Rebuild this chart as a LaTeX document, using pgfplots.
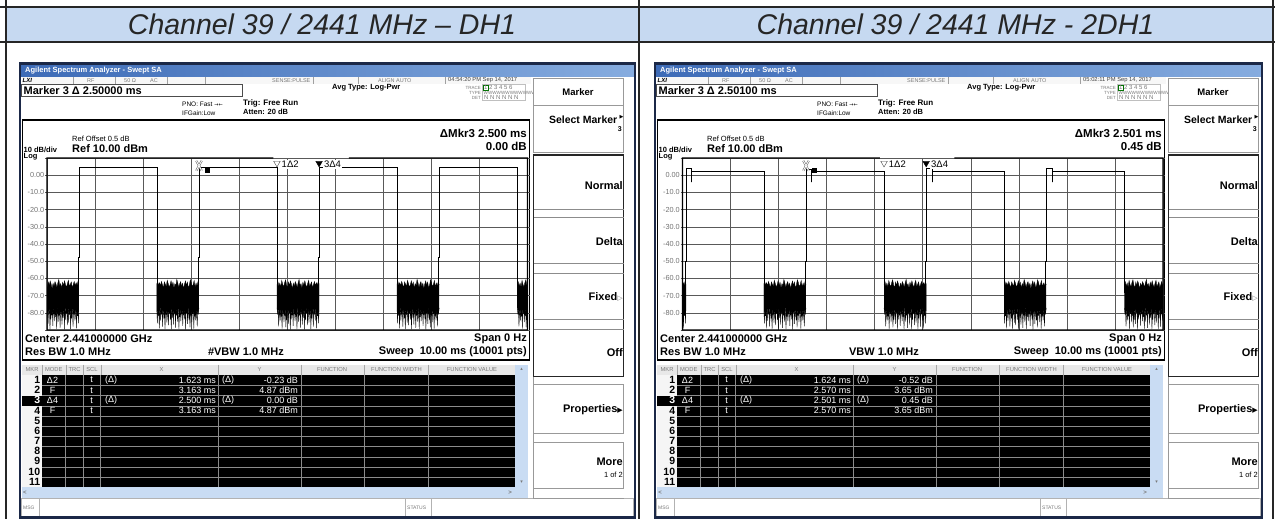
\documentclass[border=0pt]{standalone}
\usepackage{fontspec}
\setmainfont{Liberation Sans}
\newfontfamily\sym{DejaVu Sans}
\usepackage{pgfplots}
\pgfplotsset{compat=1.18}
\usepackage{pgfplotstable}
\usetikzlibrary{calc}

\definecolor{hdrblue}{HTML}{C6D9F1}
\definecolor{tline}{HTML}{262626}
\definecolor{navy}{HTML}{1B2847}
\definecolor{tbarL}{HTML}{3D6BB7}
\definecolor{tbarR}{HTML}{86ACDF}
\definecolor{scrollb}{HTML}{C9DCF3}
\definecolor{sepgray}{HTML}{A0A0A0}
\definecolor{stgray}{HTML}{7A7A7A}

\newcommand\fs[1]{\fontsize{#1}{#1}\selectfont}

% noise block: upper edge forward, lower edge backward (ms offset, dBm)
\pgfplotstableread{
t v
0.000 -63.8
0.020 -61.9
0.040 -64.6
0.060 -62.7
0.080 -65.1
0.100 -61.2
0.120 -63.5
0.140 -64.9
0.160 -62.4
0.180 -60.8
0.200 -63.9
0.220 -65.6
0.240 -62.1
0.260 -64.2
0.280 -61.5
0.300 -63.3
0.320 -66.0
0.340 -62.8
0.360 -64.7
0.380 -61.9
0.400 -63.1
0.420 -65.3
0.440 -62.6
0.460 -60.6
0.480 -64.4
0.500 -63.0
0.520 -65.8
0.540 -62.2
0.560 -64.1
0.580 -61.4
0.600 -63.7
0.620 -65.2
0.640 -62.9
0.660 -61.1
0.680 -64.8
0.700 -63.4
0.720 -62.0
0.740 -65.5
0.760 -63.6
0.780 -61.8
0.800 -64.3
0.820 -62.5
0.840 -64.0
0.860 -61.7
0.876 -63.2
0.876 -78.5
0.866 -86.2
0.856 -77.1
0.846 -81.8
0.836 -75.9
0.826 -89.0
0.816 -78.8
0.806 -76.2
0.796 -84.6
0.786 -77.5
0.776 -80.9
0.766 -75.6
0.756 -88.1
0.746 -79.2
0.736 -76.8
0.726 -83.3
0.716 -78.0
0.706 -89.5
0.696 -76.5
0.686 -81.1
0.676 -77.8
0.666 -85.7
0.656 -75.8
0.646 -79.9
0.636 -87.2
0.626 -77.3
0.616 -80.4
0.606 -76.1
0.596 -84.0
0.586 -78.6
0.576 -89.6
0.566 -76.7
0.556 -79.5
0.546 -82.9
0.536 -77.0
0.526 -86.8
0.516 -75.7
0.506 -80.2
0.496 -78.3
0.486 -88.7
0.476 -76.4
0.466 -81.5
0.456 -77.9
0.446 -85.1
0.436 -76.0
0.426 -79.0
0.416 -89.3
0.406 -77.6
0.396 -82.4
0.386 -76.6
0.376 -84.9
0.366 -78.2
0.356 -80.7
0.346 -75.5
0.336 -87.6
0.326 -77.2
0.316 -81.3
0.306 -76.9
0.296 -83.8
0.286 -78.9
0.276 -89.8
0.266 -76.3
0.256 -80.0
0.246 -77.7
0.236 -86.5
0.226 -75.8
0.216 -79.6
0.206 -84.2
0.196 -77.4
0.186 -88.4
0.176 -76.8
0.166 -81.7
0.156 -78.1
0.146 -85.4
0.136 -76.2
0.126 -80.6
0.116 -77.0
0.106 -89.2
0.096 -78.4
0.086 -82.1
0.076 -76.5
0.066 -84.4
0.056 -77.8
0.046 -80.3
0.036 -87.9
0.026 -76.1
0.016 -81.0
0.006 -78.7
0.000 -77.2
}\noise

% DH1 trace (ms, dBm)
\pgfplotstableread{
t v
0 -68
0.653 -68
0.653 -48
0.663 -48
0.663 4.87
2.286 4.87
2.286 -68
3.153 -68
3.153 -48
3.163 -48
3.163 4.87
4.786 4.87
4.786 -68
5.653 -68
5.653 -48
5.663 -48
5.663 4.87
7.286 4.87
7.286 -68
8.153 -68
8.153 -48
8.163 -48
8.163 4.87
9.786 4.87
9.786 -68
10 -68
}\pulseL

% 2DH1 trace (ms, dBm)
\pgfplotstableread{
t v
0 -68
0.06 -68
0.06 -50
0.07 -50
0.07 3.8
0.19 3.8
0.19 -4
0.19 2.4
1.694 2.4
1.694 -68
2.56 -68
2.56 -50
2.57 -50
2.57 3.65
2.69 3.65
2.69 -4
2.69 2.4
4.194 2.4
4.194 -68
5.061 -68
5.061 -50
5.071 -50
5.071 3.8
5.19 3.8
5.19 -4
5.19 2.4
6.694 2.4
6.694 -68
7.56 -68
7.56 -50
7.57 -50
7.57 3.8
7.69 3.8
7.69 -4
7.69 2.4
9.194 2.4
9.194 -68
10 -68
}\pulseR

\pgfplotsset{sa/.style={
  scale only axis, width=480.5pt, height=172pt, anchor=south west,
  xmin=0, xmax=10, ymin=-90, ymax=10,
  xtick={0,1,...,10}, xticklabels={},
  ytick={-90,-80,...,10},
  yticklabels={,-80.0,-70.0,-60.0,-50.0,-40.0,-30.0,-20.0,-10.0,0.00,},
  grid=major, grid style={black!65, line width=0.55pt},
  axis line style={draw=none},
  tick align=outside, major tick length=2pt,
  xtick style={draw=none},
  ytick style={black!65, line width=0.55pt},
  yticklabel style={font=\fs{7.3}, text=black!55, inner sep=0.5pt},
  clip mode=individual,
}}

\tikzset{
  rt/.style={text=white, font=\fs{9}, inner sep=0pt},
  st/.style={font=\fs{5.5}, text=stgray, inner sep=0pt, anchor=west},
  th/.style={font=\fs{5.8}, text=stgray, inner sep=0pt},
}

% #1 ox, #2 W, #3 timestamp, #4 marker value, #5 dmkr time, #6 dmkr dB, #7 vbw, #8 row contents
\newcommand{\screen}[8]{%
\begin{scope}[shift={(#1,0)}]
\fill[white] (0,63) rectangle (#2,518);
\shade[left color=tbarL, right color=tbarR] (0,64) rectangle (#2,77);
\node[anchor=west, text=white, font=\fs{7.5}\bfseries, inner sep=0pt] at (5,70.5) {Agilent Spectrum Analyzer - Swept SA};
% status row
\fill[black!3] (1.5,77) rectangle (511,84);
\foreach \s in {53,95,147,185,293,338,425}{\draw[sepgray, line width=0.4pt] (\s,77.5)--(\s,84);}
\node[anchor=west, font=\fs{6}\bfseries\itshape, inner sep=0pt] at (2.5,80.5) {LXI};
\node[st] at (67,80.5) {RF};
\node[st] at (104,80.5) {50 Ω};
\node[st] at (130,80.5) {AC};
\node[st] at (252,80.5) {SENSE:PULSE};
\node[st] at (358,80.5) {ALIGN AUTO};
\node[anchor=west, font=\fs{5.8}, text=black!75, inner sep=0pt] at (428,80.5) {#3};
% marker readout
\draw[black!70, line width=0.5pt, fill=white] (1.5,84.5) rectangle (222,96);
\node[anchor=west, font=\fs{11}\bfseries, inner sep=0pt] at (3.5,90.5) {Marker 3 Δ #4};
\node[anchor=west, font=\fs{7.5}\bfseries, inner sep=0pt] at (312,88) {Avg Type: Log-Pwr};
\node[anchor=east, font=\fs{4.5}, text=stgray, inner sep=0pt] at (461,87.5) {TRACE};
\node[anchor=east, font=\fs{4.5}, text=stgray, inner sep=0pt] at (461,92.5) {TYPE};
\node[anchor=east, font=\fs{4.5}, text=stgray, inner sep=0pt] at (461,97.5) {DET};
\draw[black!25, line width=0.4pt] (462.5,84.5) rectangle (505.5,100.5);
\draw[green!45!black, line width=0.4pt] (463,85) rectangle (468,90.5);
\node[anchor=west, font=\fs{6}, text=stgray, inner sep=0pt] at (464,87.7) {1 2 3 4 5 6};
\node[anchor=west, font=\fs{4.6}, text=stgray, inner sep=0pt] at (463.5,92.7) {WWWWWWWWWWWW};
\node[anchor=west, font=\fs{6}, text=stgray, inner sep=0pt] at (464,97.7) {N N N N N N};
\node[anchor=west, font=\fs{6.5}, inner sep=0pt] at (162,104) {PNO: Fast {\sym\fs{5}→←}};
\node[anchor=west, font=\fs{6.5}, inner sep=0pt] at (162,113) {IFGain:Low};
\node[anchor=west, font=\fs{8}\bfseries, inner sep=0pt] at (223,103) {Trig: Free Run};
\node[anchor=west, font=\fs{7.5}\bfseries, inner sep=0pt] at (223,112) {Atten: 20 dB};
% display frame
\draw[black, line width=1.2pt] (2.5,120) rectangle (509.5,360);
\node[anchor=east, font=\fs{11.5}\bfseries, inner sep=0pt] at (507,133) {ΔMkr3 #5};
\node[anchor=east, font=\fs{11.5}\bfseries, inner sep=0pt] at (507,146) {#6};
\node[anchor=west, font=\fs{7.5}, inner sep=0pt] at (52,139) {Ref Offset 0.5 dB};
\node[anchor=west, font=\fs{7.5}\bfseries, inner sep=0pt] at (3.5,150) {10 dB/div};
\node[anchor=west, font=\fs{11}\bfseries, inner sep=0pt] at (52,149) {Ref 10.00 dBm};
\node[anchor=west, font=\fs{7.5}\bfseries, inner sep=0pt] at (3.5,156.5) {Log};
\node[anchor=west, font=\fs{11}\bfseries, inner sep=0pt] at (5,338.5) {Center 2.441000000 GHz};
\node[anchor=east, font=\fs{11}\bfseries, inner sep=0pt] at (507,338.5) {Span 0 Hz};
\node[anchor=west, font=\fs{11}\bfseries, inner sep=0pt] at (5,351.5) {Res BW 1.0 MHz};
\node[anchor=east, font=\fs{11}\bfseries, inner sep=0pt] at (264,351.5) {#7};
\node[anchor=east, font=\fs{11}\bfseries, inner sep=0pt] at (507,351.5) {Sweep\hspace{6pt}10.00 ms (10001 pts)};
% marker table
\fill[black!9] (1.5,364.5) rectangle (508,374.5);
\foreach \s in {21.7,45.7,63.3,80.7,198.3,281,344.5,408.5,495}{\draw[black!35, line width=0.4pt] (\s,364.5)--(\s,374.5);}
\node[th] at (12,369.5) {MKR};
\node[th] at (33.7,369.5) {MODE};
\node[th] at (54.5,369.5) {TRC};
\node[th] at (72,369.5) {SCL};
\node[th] at (141.5,369.5) {X};
\node[th] at (239.5,369.5) {Y};
\node[th] at (312,369.5) {FUNCTION};
\node[th] at (376.5,369.5) {FUNCTION WIDTH};
\node[th] at (452,369.5) {FUNCTION VALUE};
\fill[black!4] (1.5,374.5) rectangle (21.7,487);
\fill[black] (21.7,374.5) rectangle (495,487);
\fill[black] (1.5,395.7) rectangle (21.7,405.9);
\foreach \s in {385.1,395.7,405.9,416.1,426.3,436.5,446.7,456.9,467.1,477.3}{\draw[black!45, line width=0.5pt] (21.7,\s)--(495,\s);}
\foreach \s in {45.7,63.3,80.7,198.3,281,344.5,408.5}{\draw[black!45, line width=0.5pt] (\s,374.5)--(\s,487);}
\foreach \i in {1,2,4,5,6,7,8,9,10,11}{\node[anchor=east, font=\fs{10.5}\bfseries, inner sep=0pt] at (20.3,{380+(\i-1)*10.17}) {\i};}
\node[anchor=east, font=\fs{10.5}\bfseries, text=white, inner sep=0pt] at (20.3,400.34) {3};
\fill[scrollb] (495,364.5) rectangle (508,487);
\node[font=\sym\fs{5}, text=stgray] at (501.5,369.5) {▴};
\node[font=\sym\fs{5}, text=stgray] at (501.5,482) {▾};
#8
% horizontal scroll bar and message line
\fill[scrollb] (1.5,487) rectangle (508,497.5);
\node[font=\fs{6}\bfseries, text=stgray] at (5,492.3) {<};
\node[font=\fs{6}\bfseries, text=stgray] at (490,492.3) {>};
\draw[black!30, line width=0.4pt] (1.5,498.5) rectangle (#2-2,516);
\draw[black!30, line width=0.4pt] (19,498.5)--(19,516) (385,498.5)--(385,516) (411,498.5)--(411,516);
\node[st, font=\fs{5}] at (3,507.5) {MSG};
\node[st, font=\fs{5}] at (387,507.5) {STATUS};
% softkeys
\draw[black!40, fill=white] (513,78) rectangle (603.5,105);
\node[font=\fs{9.5}\bfseries, inner sep=0pt] at (558,92) {Marker};
\draw[black!40] (513,105) rectangle (603.5,152);
\node[anchor=east, font=\fs{10.5}\bfseries, inner sep=0pt] at (597.5,119.5) {Select Marker};
\node[font=\sym\fs{5}, inner sep=0pt] at (601.5,117) {▶};
\node[anchor=east, font=\fs{7}\bfseries, inner sep=0pt] at (602,129.5) {3};
\draw[black!85, line width=1.2pt] (513.5,155) rectangle (603.5,376.5);
\foreach \s in {209,217,263,273,319,329}{\draw[black!45, line width=0.5pt] (513.5,\s)--(603.5,\s);}
\node[anchor=east, font=\fs{11}\bfseries, inner sep=0pt] at (603,186) {Normal};
\node[anchor=east, font=\fs{11}\bfseries, inner sep=0pt] at (603,241.5) {Delta};
\node[anchor=east, font=\fs{11}\bfseries, inner sep=0pt] at (603,297) {Fixed{\sym\fs{7}\color{black!50}▷}};
\node[anchor=east, font=\fs{11}\bfseries, inner sep=0pt] at (603,353) {Off};
\draw[black!40] (513,384) rectangle (603.5,433);
\draw[black!40] (513,442) rectangle (603.5,488);
\draw[black!40] (513,376.5) -- (513,498) -- (603.5,498);
\node[anchor=east, font=\fs{11}\bfseries, inner sep=0pt] at (603,409.5) {Properties{\sym\fs{7}▶}};
\node[anchor=east, font=\fs{11}\bfseries, inner sep=0pt] at (603,462) {More};
\node[anchor=east, font=\fs{7.5}, inner sep=0pt] at (603,474.5) {1 of 2};
% outer screenshot border
\draw[navy, line width=2.5pt] (0,63.5) rectangle (#2,517.5);
\end{scope}}

\newcommand{\rowsL}{%
\node[rt] at (32.5,380) {Δ2};
\node[rt] at (71.5,380) {t};
\node[rt, anchor=west] at (85,380) {(Δ)};
\node[rt, anchor=east] at (196,380) {1.623 ms};
\node[rt, anchor=west] at (202,380) {(Δ)};
\node[rt, anchor=east] at (278,380) {-0.23 dB};
\node[rt] at (32.5,390.17) {F};
\node[rt] at (71.5,390.17) {t};
\node[rt, anchor=east] at (196,390.17) {3.163 ms};
\node[rt, anchor=east] at (278,390.17) {4.87 dBm};
\node[rt] at (32.5,400.34) {Δ4};
\node[rt] at (71.5,400.34) {t};
\node[rt, anchor=west] at (85,400.34) {(Δ)};
\node[rt, anchor=east] at (196,400.34) {2.500 ms};
\node[rt, anchor=west] at (202,400.34) {(Δ)};
\node[rt, anchor=east] at (278,400.34) {0.00 dB};
\node[rt] at (32.5,410.51) {F};
\node[rt] at (71.5,410.51) {t};
\node[rt, anchor=east] at (196,410.51) {3.163 ms};
\node[rt, anchor=east] at (278,410.51) {4.87 dBm};
}
\newcommand{\rowsR}{%
\node[rt] at (32.5,380) {Δ2};
\node[rt] at (71.5,380) {t};
\node[rt, anchor=west] at (85,380) {(Δ)};
\node[rt, anchor=east] at (196,380) {1.624 ms};
\node[rt, anchor=west] at (202,380) {(Δ)};
\node[rt, anchor=east] at (278,380) {-0.52 dB};
\node[rt] at (32.5,390.17) {F};
\node[rt] at (71.5,390.17) {t};
\node[rt, anchor=east] at (196,390.17) {2.570 ms};
\node[rt, anchor=east] at (278,390.17) {3.65 dBm};
\node[rt] at (32.5,400.34) {Δ4};
\node[rt] at (71.5,400.34) {t};
\node[rt, anchor=west] at (85,400.34) {(Δ)};
\node[rt, anchor=east] at (196,400.34) {2.501 ms};
\node[rt, anchor=west] at (202,400.34) {(Δ)};
\node[rt, anchor=east] at (278,400.34) {0.45 dB};
\node[rt] at (32.5,410.51) {F};
\node[rt] at (71.5,410.51) {t};
\node[rt, anchor=east] at (196,410.51) {2.570 ms};
\node[rt, anchor=east] at (278,410.51) {3.65 dBm};
}

\begin{document}
\begin{tikzpicture}
\useasboundingbox (0,0) rectangle (1275pt,-519pt);
\begin{scope}[x=1pt, y=-1pt]
\fill[white] (0,0) rectangle (1275,519);
\fill[hdrblue] (6,7) rectangle (1273,42);
\node[font=\fs{28.5}\itshape, text=black!85] at (322,24.5) {Channel 39 / 2441 MHz – DH1};
\node[font=\fs{28.5}\itshape, text=black!85] at (955.5,24.5) {Channel 39 / 2441 MHz - 2DH1};
\screen{20}{615}{04:54:20 PM Sep 14, 2017}{2.50000 ms}{2.500 ms}{0.00 dB}{\#VBW 1.0 MHz}{\rowsL}
\screen{655}{607}{05:02:11 PM Sep 14, 2017}{2.50100 ms}{2.501 ms}{0.45 dB}{VBW 1.0 MHz}{\rowsR}
\end{scope}

% ---------- left trace: DH1 ----------
\begin{axis}[sa, name=axL, at={(47pt,-330pt)}]
\addplot[fill=black, draw=black, line width=0.3pt] table[x expr=\thisrow{t}-0.214, y=v] {\noise};
\addplot[fill=black, draw=black, line width=0.3pt] table[x expr=2.286+0.876-\thisrow{t}, y=v] {\noise};
\addplot[fill=black, draw=black, line width=0.3pt] table[x expr=4.786+\thisrow{t}, y=v] {\noise};
\addplot[fill=black, draw=black, line width=0.3pt] table[x expr=7.286+0.876-\thisrow{t}, y=v] {\noise};
\addplot[fill=black, draw=black, line width=0.3pt] table[x expr=9.786+\thisrow{t}, y=v] {\noise};
\addplot[black, line width=0.6pt] table[x=t, y=v] {\pulseL};
\addplot[only marks, mark=x, mark size=7pt, mark options={xscale=0.55, line width=2pt, draw=black!60}] coordinates {(3.163,5.5)};
\addplot[only marks, mark=x, mark size=7pt, mark options={xscale=0.55, line width=0.9pt, draw=white}] coordinates {(3.163,5.5)};
\addplot[only marks, mark=square*, mark size=2.2pt, mark options={fill=black}] coordinates {(3.33,3.2)};
\node[anchor=west, fill=white, inner sep=1pt, font=\fs{9.5}] at (axis cs:4.86,6.4) {1Δ2};
\node[anchor=west, fill=white, inner sep=1pt, font=\fs{9.5}] at (axis cs:5.74,6.4) {3Δ4};
\addplot[only marks, mark=triangle*, mark size=3.8pt, mark options={rotate=180, fill=white, draw=black!70}] coordinates {(4.786,7)};
\addplot[only marks, mark=triangle*, mark size=3.8pt, mark options={rotate=180, fill=black}] coordinates {(5.663,7)};
\end{axis}
\draw[black, line width=1.3pt] ($(axL.north west)!0.471!(axL.north east)$) -- (axL.north west) -- (axL.south west) -- (axL.south east) -- (axL.north east) -- ($(axL.north west)!0.628!(axL.north east)$);

% ---------- right trace: 2DH1 ----------
\begin{axis}[sa, name=axR, at={(682.5pt,-330pt)}]
\addplot[fill=black, draw=black, line width=0.3pt] table[x expr=0.07-0.876+\thisrow{t}, y=v] {\noise};
\addplot[fill=black, draw=black, line width=0.3pt] table[x expr=1.694+0.876-\thisrow{t}, y=v] {\noise};
\addplot[fill=black, draw=black, line width=0.3pt] table[x expr=4.194+\thisrow{t}, y=v] {\noise};
\addplot[fill=black, draw=black, line width=0.3pt] table[x expr=6.694+0.876-\thisrow{t}, y=v] {\noise};
\addplot[fill=black, draw=black, line width=0.3pt] table[x expr=9.194+\thisrow{t}, y=v] {\noise};
\addplot[black, line width=0.6pt] table[x=t, y=v] {\pulseR};
\addplot[only marks, mark=x, mark size=7pt, mark options={xscale=0.55, line width=2pt, draw=black!60}] coordinates {(2.570,5.5)};
\addplot[only marks, mark=x, mark size=7pt, mark options={xscale=0.55, line width=0.9pt, draw=white}] coordinates {(2.570,5.5)};
\addplot[only marks, mark=square*, mark size=2.2pt, mark options={fill=black}] coordinates {(2.74,3.0)};
\node[anchor=west, fill=white, inner sep=1pt, font=\fs{9.5}] at (axis cs:4.27,6.4) {1Δ2};
\node[anchor=west, fill=white, inner sep=1pt, font=\fs{9.5}] at (axis cs:5.15,6.4) {3Δ4};
\addplot[only marks, mark=triangle*, mark size=3.8pt, mark options={rotate=180, fill=white, draw=black!70}] coordinates {(4.194,7)};
\addplot[only marks, mark=triangle*, mark size=3.8pt, mark options={rotate=180, fill=black}] coordinates {(5.071,7)};
\end{axis}
\draw[black, line width=1.3pt] ($(axR.north west)!0.411!(axR.north east)$) -- (axR.north west) -- (axR.south west) -- (axR.south east) -- (axR.north east) -- ($(axR.north west)!0.566!(axR.north east)$);

% ---------- document table rules ----------
\begin{scope}[x=1pt, y=-1pt]
\draw[tline, line width=2pt] (0,7)--(1275,7);
\draw[tline, line width=2pt] (0,42.5)--(1275,42.5);
\draw[tline, line width=2pt] (6,0)--(6,519);
\draw[tline, line width=2pt] (638.5,0)--(638.5,519);
\draw[tline, line width=2pt] (1273,0)--(1273,519);
\end{scope}
\end{tikzpicture}
\end{document}
